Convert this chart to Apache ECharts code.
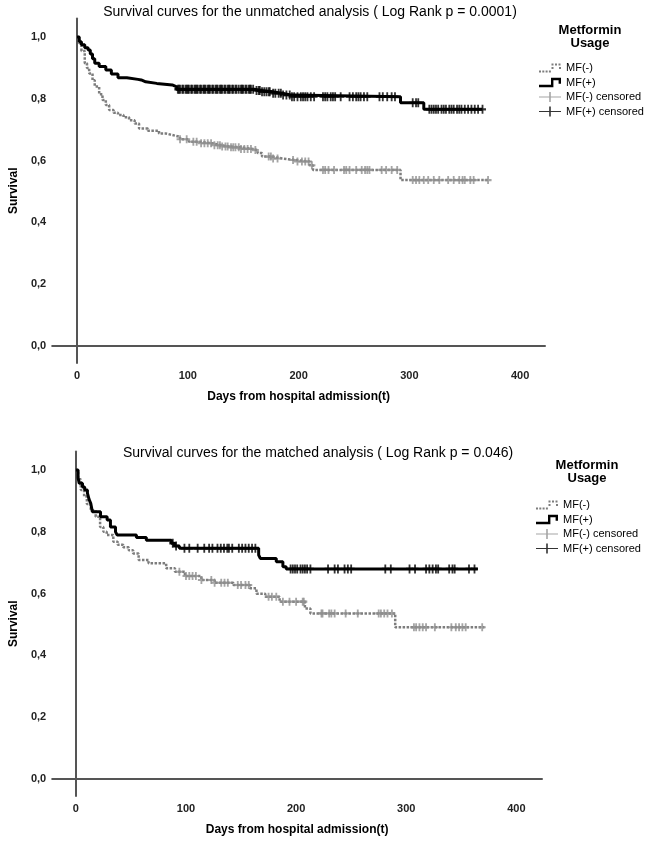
<!DOCTYPE html>
<html>
<head>
<meta charset="utf-8">
<script src="https://cdn.jsdelivr.net/npm/echarts@6/dist/echarts.min.js"></script>
<style>
html,body{margin:0;padding:0;background:#fff;}
#chart{width:645px;height:843px;}
</style>
</head>
<body>
<div id="chart"></div>
<script>
// ---------- Data ----------
const xTickValues = [0, 100, 200, 300, 400];
const yTickValues = [0, 0.2, 0.4, 0.6, 0.8, 1.0];
const seriesNames = ['MF(-)', 'MF(+)', 'MF(-) censored', 'MF(+) censored'];

// Unmatched analysis
const unmatchedNegDays = [0,2,4,7,9,11,14,16,20,23,26,29,33,37,42,47,52,56,64,74,80,86,93,101,110,122,130,137,148,158,163,167,176,185,197,210,213,292,371];
const unmatchedNegSurv = [1.0,0.98,0.955,0.915,0.9,0.882,0.86,0.84,0.815,0.796,0.78,0.764,0.755,0.748,0.74,0.731,0.72,0.704,0.697,0.688,0.683,0.677,0.669,0.661,0.656,0.65,0.646,0.643,0.638,0.634,0.625,0.613,0.607,0.602,0.597,0.585,0.57,0.537,0.537];
const unmatchedPosDays = [0,2,4,7,10,12,14,16,20,26,31,37,45,55,58,62,72,86,90,160,167,176,185,194,292,313,366];
const unmatchedPosSurv = [1.0,0.985,0.975,0.965,0.958,0.945,0.93,0.915,0.905,0.893,0.88,0.868,0.863,0.861,0.855,0.85,0.845,0.839,0.831,0.827,0.823,0.818,0.812,0.807,0.787,0.766,0.766];
const unmatchedNegCensor = [93,99,105,108,112,115,118,121,124,127,129,131,134,136,139,141,143,146,148,151,154,157,161,173,175,177,181,195,199,203,206,209,212,222,224,227,232,241,243,246,252,257,260,262,264,275,279,284,289,303,306,309,313,317,322,327,335,340,345,348,350,355,358,371];
const unmatchedPosCensor = [91,92,93,95,96,98,99,100,101,103,104,106,107,108,109,111,112,114,115,116,118,119,120,122,123,125,126,127,129,130,131,133,134,136,137,138,140,141,143,144,146,148,149,150,152,153,155,156,157,159,162,164,165,167,169,171,173,174,177,179,182,184,186,189,192,194,196,199,202,204,206,208,211,214,222,224,226,229,231,233,238,246,249,252,254,256,259,262,273,276,280,284,287,303,306,308,318,320,322,324,326,329,331,333,336,338,340,343,345,347,350,353,356,359,362,366];

// Matched analysis
const matchedNegDays = [0,2,4.5,7.5,10,13.5,18,22,25,28,34,38,43,48,52,57,66,82,90,99,114,126,143,158,164,172,185,208,213,290,371];
const matchedNegSurv = [1,0.97,0.935,0.914,0.89,0.87,0.849,0.816,0.8,0.79,0.768,0.758,0.75,0.74,0.73,0.709,0.698,0.682,0.671,0.657,0.644,0.635,0.628,0.617,0.60,0.59,0.574,0.552,0.536,0.491,0.491];
const matchedPosDays = [0,2,3,6,8,10.5,12,13.5,15,22.4,28.4,31.4,36,37.4,55,64,86.7,89.7,94,166,167.5,182,188,191,365];
const matchedPosSurv = [1,0.975,0.957,0.945,0.935,0.925,0.905,0.892,0.865,0.849,0.838,0.816,0.80,0.79,0.782,0.773,0.763,0.754,0.747,0.725,0.714,0.703,0.687,0.68,0.68];
const matchedNegCensor = [94,100,103,106,109,114,123,126,132,135,138,147,150,154,157,175,178,182,188,194,200,206,207,223,224,230,232,235,245,256,275,277,280,283,287,307,309,312,315,318,326,341,345,348,351,354,369];
const matchedPosCensor = [88,91,98.6,103,110.6,116.6,121,124,128.6,131.6,134.5,137.5,139,142,148,151,154,157,160,163,195,197,199,201,204,206,208,210,213,229,235,238,244,247,250,281,286,303,308,318,321,324,327,329,339,342,344,357,362];

// ---------- Helpers ----------
function pairs(days, surv) { return days.map((d, i) => [d, surv[i]]); }
function survAt(days, surv, d) {
  let s = surv[0];
  for (let i = 0; i < days.length; i++) { if (days[i] <= d) s = surv[i]; }
  return s;
}
function censorPts(cens, days, surv) { return cens.map(d => [d, survAt(days, surv, d)]); }

const FONT = '"Liberation Sans", Arial, sans-serif';
const NARROW = '"Liberation Sans Narrow", "Liberation Sans", Arial, sans-serif';
const GREY_LINE = '#7d7d7d';
const GREY_CENS = '#8f8f8f';
const PLUS = 'path://M3.7,0H6.3V3.7H10V6.3H6.3V10H3.7V6.3H0V3.7H3.7Z';
const ICON_NEG = 'path://M0,7h2v2h-2z M3.3,7h2v2h-2z M6.6,7h2v2h-2z M9.9,7h2v2h-2z M12.5,3.5h2v2h-2z M12.5,0h2v2h-2z M16,0h2v2h-2z M19.5,0h2v2h-2z M20,3.5h2v2h-2z';
const ICON_POS = 'path://M0,7H12V0H22V6H19.6V2.4H14.4V9.4H0Z';
const ICON_CENS = 'path://M0,4.4H10.2V0H11.8V4.4H22V5.6H11.8V10H10.2V5.6H0Z';

function makeAxes(gridIndex, xmin, xmax) {
  const axisLine = { show: true, lineStyle: { color: '#555', width: 2 } };
  return {
    x: {
      type: 'value', gridIndex, min: xmin, max: xmax,
      axisLine, axisTick: { show: false }, splitLine: { show: false },
      axisLabel: { customValues: xTickValues, margin: 7, fontSize: 11, fontWeight: 'bold', color: '#222', fontFamily: NARROW },
      name: 'Days from hospital admission(t)', nameLocation: 'middle', nameGap: 28,
      nameTextStyle: { fontSize: 12, fontWeight: 'bold', color: '#000', fontFamily: FONT }
    },
    y: {
      type: 'value', gridIndex, min: -0.055, max: 1.06,
      axisLine, axisTick: { show: false }, splitLine: { show: false },
      axisLabel: { customValues: yTickValues, margin: 6, fontSize: 11, fontWeight: 'bold', color: '#222', fontFamily: NARROW,
        formatter: v => v.toFixed(1).replace('.', ',') },
      name: 'Survival', nameLocation: 'middle', nameGap: 30, nameRotate: 90,
      nameTextStyle: { fontSize: 12, fontWeight: 'bold', color: '#000', fontFamily: FONT }
    }
  };
}

const a1 = makeAxes(0, -22.4, 422.4);
const a2 = makeAxes(1, -21.5, 423.3);

function kmSeries(idx, negDays, negSurv, posDays, posSurv, negCens, posCens) {
  return [
    { name: seriesNames[0], type: 'line', xAxisIndex: idx, yAxisIndex: idx, step: 'end', symbol: 'none',
      color: GREY_LINE, lineStyle: { color: GREY_LINE, width: 2.5, type: [2.5, 1.5] },
      data: pairs(negDays, negSurv), z: 2, animation: false },
    { name: seriesNames[2], type: 'scatter', xAxisIndex: idx, yAxisIndex: idx, symbol: PLUS, symbolSize: [7, 8],
      color: GREY_CENS, itemStyle: { color: GREY_CENS },
      data: censorPts(negCens, negDays, negSurv), z: 3, animation: false },
    { name: seriesNames[1], type: 'line', xAxisIndex: idx, yAxisIndex: idx, step: 'end', symbol: 'none',
      color: '#000', lineStyle: { color: '#000', width: 3 },
      data: pairs(posDays, posSurv), z: 4, animation: false },
    { name: seriesNames[3], type: 'scatter', xAxisIndex: idx, yAxisIndex: idx, symbol: PLUS, symbolSize: [7, 9],
      color: '#000', itemStyle: { color: '#000' },
      data: censorPts(posCens, posDays, posSurv), z: 5, animation: false }
  ];
}

function makeLegend(left, top) {
  return {
    orient: 'vertical', left, top, itemWidth: 22, itemHeight: 11, itemGap: 3.5,
    selectedMode: false,
    itemStyle: { borderWidth: 0 },
    textStyle: { fontSize: 11, color: '#000', fontFamily: FONT },
    data: [
      { name: seriesNames[0], icon: ICON_NEG },
      { name: seriesNames[1], icon: ICON_POS },
      { name: seriesNames[2], icon: ICON_CENS },
      { name: seriesNames[3], icon: ICON_CENS }
    ]
  };
}

function txt(x, y, text, font) {
  return { type: 'text', x, y, silent: true,
    style: { text, font, fill: '#000', align: 'center', verticalAlign: 'middle', textAlign: 'center', textVerticalAlign: 'middle' } };
}

const chart = echarts.init(document.getElementById('chart'), null, { renderer: 'canvas' });
chart.setOption({
  animation: false,
  backgroundColor: '#fff',
  textStyle: { fontFamily: FONT },
  grid: [
    { left: 49, top: 18.5, width: 496, height: 344.5, containLabel: false },
    { left: 46, top: 451.5, width: 496, height: 344.5, containLabel: false }
  ],
  xAxis: [a1.x, a2.x],
  yAxis: [a1.y, a2.y],
  legend: [makeLegend(534, 57.5), makeLegend(531, 494.5)],
  graphic: [
    txt(310, 12, 'Survival curves for the unmatched analysis ( Log Rank p = 0.0001)', '14px ' + FONT),
    txt(590, 30, 'Metformin', 'bold 13px ' + FONT),
    txt(590, 43, 'Usage', 'bold 13px ' + FONT),
    txt(318, 453, 'Survival curves for the matched analysis ( Log Rank p = 0.046)', '14px ' + FONT),
    txt(587, 465, 'Metformin', 'bold 13px ' + FONT),
    txt(587, 478, 'Usage', 'bold 13px ' + FONT)
  ],
  series: [].concat(
    kmSeries(0, unmatchedNegDays, unmatchedNegSurv, unmatchedPosDays, unmatchedPosSurv, unmatchedNegCensor, unmatchedPosCensor),
    kmSeries(1, matchedNegDays, matchedNegSurv, matchedPosDays, matchedPosSurv, matchedNegCensor, matchedPosCensor)
  )
});
</script>
</body>
</html>
